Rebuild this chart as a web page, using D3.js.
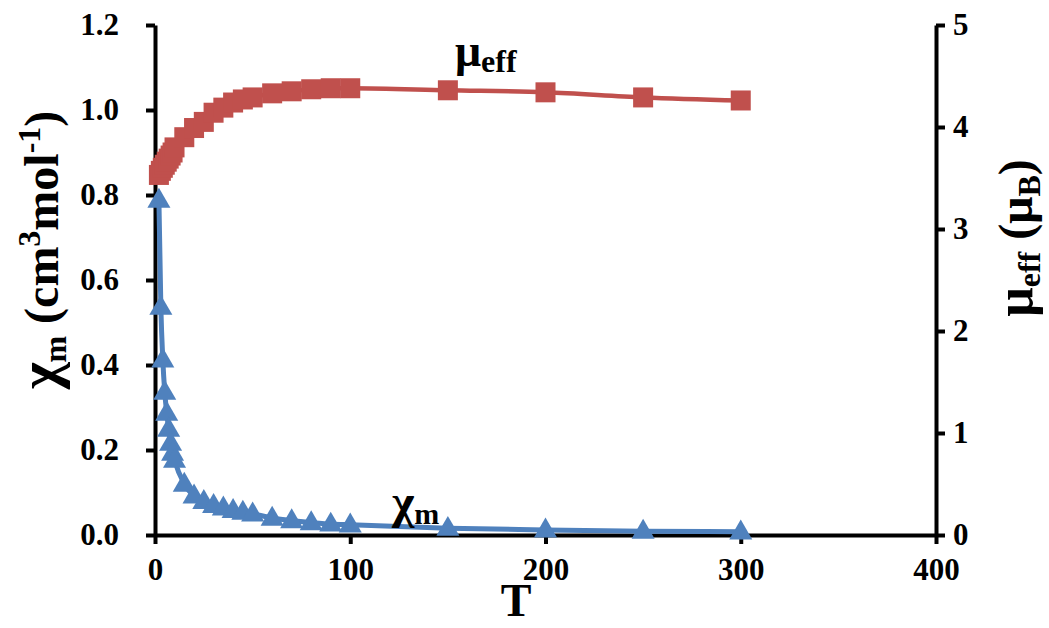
<!DOCTYPE html>
<html><head><meta charset="utf-8">
<script src="https://cdn.jsdelivr.net/npm/d3@7"></script>
<style>body{margin:0;background:#fff}svg{display:block}text{font-family:"Liberation Serif","Times New Roman",serif;font-weight:bold;fill:#000}</style>
</head><body>
<svg id="c" width="1049" height="628"></svg>
<script>
const temps = [2,3,4,5,6,7,8,9,10,15,20,25,30,35,40,45,50,60,70,80,90,100,150,200,250,300];
const chiM  = [0.788,0.536,0.412,0.336,0.287,0.249,0.216,0.193,0.176,0.120,0.092,0.079,0.070,0.064,0.058,0.054,0.050,0.040,0.034,0.029,0.026,0.024,0.016,0.012,0.009,0.0076];
const muEff = [3.53,3.57,3.60,3.63,3.66,3.69,3.72,3.75,3.80,3.90,3.99,4.05,4.14,4.19,4.24,4.27,4.29,4.33,4.35,4.37,4.38,4.38,4.36,4.34,4.29,4.26];
const xTicks = [0,100,200,300,400];
const yLeftTicks = [0,0.2,0.4,0.6,0.8,1.0,1.2];
const yRightTicks = [0,1,2,3,4,5];

const svg = d3.select("#c");
const L=155, R=936, T=25, B=535;
const x = d3.scaleLinear().domain([0,400]).range([L,R]);
const yL = d3.scaleLinear().domain([0,1.2]).range([B,T]);
const yR = d3.scaleLinear().domain([0,5]).range([B,T]);
const red="#C0504D", blue="#4F81BD";

function styleAxis(g){
  g.select(".domain").attr("stroke","#000").attr("stroke-width",4);
  g.selectAll(".tick line").attr("stroke","#000").attr("stroke-width",4);
  g.selectAll(".tick text").attr("font-family",null).style("font-size","31px").style("font-family",'"Liberation Serif",serif').style("font-weight","bold");
}
svg.append("g").attr("transform",`translate(0,${B})`)
  .call(d3.axisBottom(x).tickValues(xTicks).tickSize(9).tickSizeOuter(0).tickPadding(14).tickFormat(d3.format("d")))
  .call(styleAxis);
svg.append("g").attr("transform",`translate(${L},0)`)
  .call(d3.axisLeft(yL).tickValues(yLeftTicks).tickSize(9).tickSizeOuter(0).tickPadding(27).tickFormat(d3.format(".1f")))
  .call(styleAxis);
svg.append("g").attr("transform",`translate(${R},0)`)
  .call(d3.axisRight(yR).tickValues(yRightTicks).tickSize(9).tickSizeOuter(0).tickPadding(8).tickFormat(d3.format("d")))
  .call(styleAxis);
svg.selectAll("g").attr("font-family",null);

const chiData = temps.map((t,i)=>({t,v:chiM[i]}));
const muData = temps.map((t,i)=>({t,v:muEff[i]}));

svg.append("path").datum(muData).attr("fill","none").attr("stroke",red).attr("stroke-width",4.5)
  .attr("d",d3.line().x(d=>x(d.t)).y(d=>yR(d.v)).curve(d3.curveMonotoneX));
svg.append("g").selectAll("rect").data(muData).join("rect")
  .attr("x",d=>x(d.t)-10).attr("y",d=>yR(d.v)-10).attr("width",20).attr("height",20).attr("fill",red);

svg.append("path").datum(chiData).attr("fill","none").attr("stroke",blue).attr("stroke-width",5)
  .attr("d",d3.line().x(d=>x(d.t)).y(d=>yL(d.v)).curve(d3.curveMonotoneX));
const tri = d3.symbol().type(d3.symbolTriangle).size(230);
svg.append("g").selectAll("path").data(chiData).join("path")
  .attr("transform",d=>`translate(${x(d.t)},${yL(d.v)+1})`).attr("d",tri).attr("fill",blue);

// axis titles
svg.append("text").attr("x",516).attr("y",616).attr("text-anchor","middle").style("font-size","46px").text("T");
const lt = svg.append("text").attr("transform","translate(58,250) rotate(-90)").attr("text-anchor","middle").style("font-size","48px");
lt.append("tspan").style("font-size","58px").text("χ");
lt.append("tspan").attr("dy",8).style("font-size","32px").text("m");
lt.append("tspan").attr("dy",-8).text(" (cm");
lt.append("tspan").attr("dy",-18).style("font-size","32px").text("3");
lt.append("tspan").attr("dy",18).text("mol");
lt.append("tspan").attr("dy",-18).style("font-size","32px").text("-1");
lt.append("tspan").attr("dy",18).text(")");
const rt = svg.append("text").attr("transform","translate(1032,238) rotate(-90)").attr("text-anchor","middle").style("font-size","48px");
rt.append("tspan").style("font-size","52px").text("μ");
rt.append("tspan").attr("dy",8).style("font-size","32px").text("eff");
rt.append("tspan").attr("dy",-8).text(" (μ");
rt.append("tspan").attr("dy",8).style("font-size","32px").text("B");
rt.append("tspan").attr("dy",-8).text(")");

// series labels
const ml = svg.append("text").attr("x",455).attr("y",66).style("font-size","46px");
ml.append("tspan").text("μ");
ml.append("tspan").attr("dy",6).style("font-size","32px").text("eff");
const cl = svg.append("text").attr("x",392).attr("y",518).style("font-size","48px");
cl.append("tspan").text("χ");
cl.append("tspan").attr("dy",6).style("font-size","30px").text("m");
</script>
</body></html>
